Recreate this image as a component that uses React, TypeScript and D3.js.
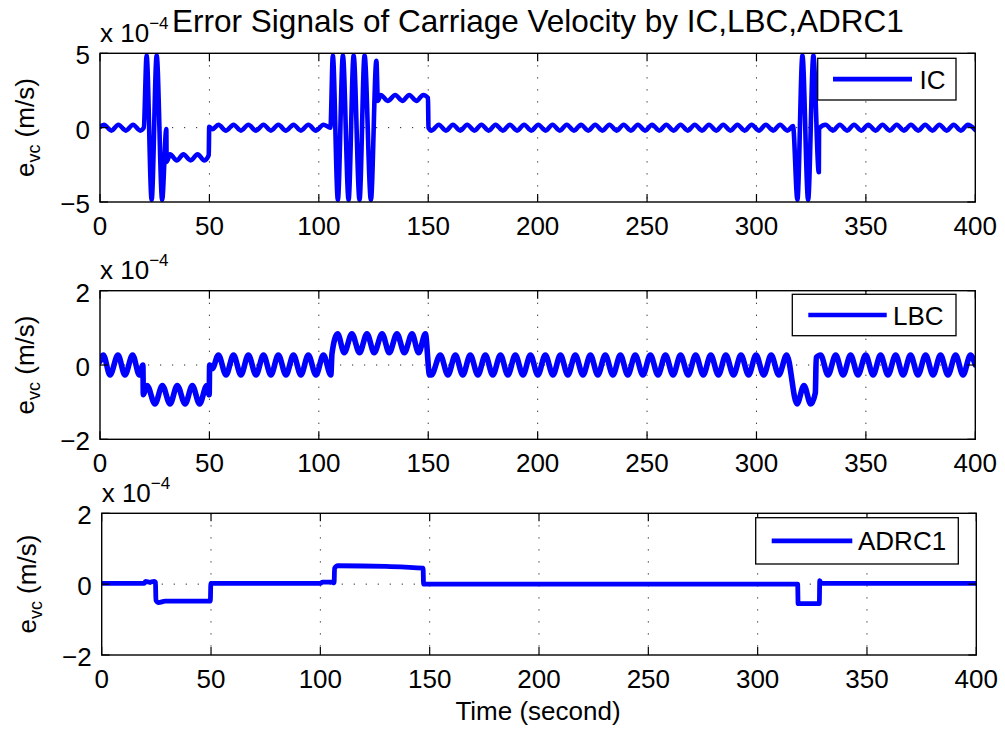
import React from 'react';
import * as d3 from 'd3';

// Velocity error traces, values in units of 1e-4 m/s, time in seconds.
type Pt = [number, number];

const TITLE = 'Error Signals of Carriage Velocity by IC,LBC,ADRC1';
const X_LABEL = 'Time (second)';
const SERIES_NAMES = ['IC', 'LBC', 'ADRC1'];
const X_TICKS = [0, 50, 100, 150, 200, 250, 300, 350, 400];
const IC_Y_TICKS = [-5, 0, 5];
const LBC_Y_TICKS = [-2, 0, 2];
const ADRC_Y_TICKS = [-2, 0, 2];

const icSignal: Pt[] = [
  [0, 0.05], [1.8, 0.2], [5.2, -0.2], [8.4, 0.2], [11.8, -0.2], [15.1, 0.2], [18.4, -0.2], [20.0, 0.0],
  [21.3, 4.85], [23.6, -4.85], [25.9, 4.85], [28.4, -4.85], [30.3, -0.1], [30.45, -2.3],
  [32.0, -1.8], [35.1, -2.2], [38.1, -1.8], [41.4, -2.2], [44.6, -1.8], [47.7, -2.2], [49.7, -1.85],
  [49.9, 0.05], [51.4, -0.1],
  [54.1, 0.2], [57.6, -0.2], [61.0, 0.2], [64.4, -0.2], [67.8, 0.2], [71.3, -0.2], [74.7, 0.2],
  [78.1, -0.2], [81.5, 0.2], [85.0, -0.2], [88.4, 0.2], [91.8, -0.2], [95.2, 0.2], [98.7, -0.2],
  [102.1, 0.2], [105.3, 0.0],
  [106.4, 4.85], [108.7, -4.85], [111.0, 4.85], [113.6, -4.85], [115.9, 4.85], [118.6, -4.85], [120.9, 4.85],
  [123.8, -4.85], [126.3, 4.5], [127.0, 1.8],
  [128.3, 2.2], [131.5, 1.8], [134.9, 2.2], [138.2, 1.8], [141.3, 2.2], [144.6, 1.8], [147.7, 2.2],
  [149.9, 2.0], [150.1, 0.0], [151.5, -0.2],
  [154.8, 0.2], [158.1, -0.2], [161.3, 0.2], [164.6, -0.2], [167.8, 0.2], [171.1, -0.2], [174.3, 0.2],
  [177.6, -0.2], [180.8, 0.2], [184.1, -0.2], [187.3, 0.2], [190.6, -0.2], [193.8, 0.2], [197.1, -0.2],
  [200.3, 0.2], [203.6, -0.2], [206.8, 0.2], [210.1, -0.2], [213.3, 0.2], [216.6, -0.2], [219.8, 0.2],
  [223.1, -0.2], [226.3, 0.2], [229.6, -0.2], [232.8, 0.2], [236.1, -0.2], [239.3, 0.2], [242.6, -0.2],
  [245.8, 0.2], [249.1, -0.2], [252.3, 0.2], [255.6, -0.2], [258.8, 0.2], [262.1, -0.2], [265.3, 0.2],
  [268.6, -0.2], [271.8, 0.2], [275.1, -0.2], [278.3, 0.2], [281.6, -0.2], [284.8, 0.2], [288.1, -0.2],
  [291.3, 0.2], [294.6, -0.2], [297.8, 0.2], [301.1, -0.2], [304.3, 0.2], [307.6, -0.2], [310.8, 0.2],
  [314.1, -0.2], [316.7, 0.1],
  [318.7, -4.85], [321.0, 4.85], [323.6, -4.85], [326.0, 4.85], [328.5, -3.0], [328.6, -0.05],
  [331.6, 0.2], [334.9, -0.2], [338.1, 0.2], [341.4, -0.2], [344.6, 0.2], [347.9, -0.2], [351.1, 0.2],
  [354.4, -0.2], [357.6, 0.2], [360.9, -0.2], [364.1, 0.2], [367.4, -0.2], [370.6, 0.2], [373.9, -0.2],
  [377.1, 0.2], [380.4, -0.2], [383.6, 0.2], [386.9, -0.2], [390.1, 0.2], [393.4, -0.2], [396.6, 0.2],
  [400, -0.15],
];

const lbcSignal: Pt[] = [
  [0, 0.1], [1.5, 0.27], [4.6, -0.27], [8.2, 0.27], [11.4, -0.27], [14.9, 0.27], [18.0, -0.27],
  [19.6, 0.0], [19.8, -0.8], [21.5, -0.55],
  [25.1, -1.05], [28.5, -0.55], [32.0, -1.05], [35.3, -0.55], [38.9, -1.05], [42.2, -0.55],
  [45.5, -1.05], [48.8, -0.55], [49.9, -0.8], [50.1, 0.0], [51.3, -0.1],
  [54.1, 0.27], [57.6, -0.27], [61.0, 0.27], [64.4, -0.27], [67.8, 0.27], [71.3, -0.27], [74.7, 0.27],
  [78.1, -0.27], [81.5, 0.27], [85.0, -0.27], [88.4, 0.27], [91.8, -0.27], [95.2, 0.27], [98.7, -0.27],
  [102.1, 0.27], [105.5, -0.27],
  [106.0, 0.3], [108.6, 0.84], [111.6, 0.33], [115.1, 0.84], [118.6, 0.33], [122.0, 0.84], [125.3, 0.33],
  [128.9, 0.84], [132.2, 0.33], [135.7, 0.84], [139.1, 0.33], [142.6, 0.84], [145.6, 0.33], [148.7, 0.84],
  [150.6, -0.27], [151.4, -0.27],
  [155.5, 0.27], [159.0, -0.27], [162.4, 0.27], [165.8, -0.27], [169.2, 0.27], [172.7, -0.27],
  [176.1, 0.27], [179.5, -0.27], [183.0, 0.27], [186.4, -0.27], [189.8, 0.27], [193.3, -0.27],
  [196.7, 0.27], [200.1, -0.27], [203.5, 0.27], [207.0, -0.27], [210.4, 0.27], [213.8, -0.27],
  [217.2, 0.27], [220.7, -0.27], [224.1, 0.27], [227.5, -0.27], [230.9, 0.27], [234.4, -0.27],
  [237.8, 0.27], [241.2, -0.27], [244.6, 0.27], [248.1, -0.27], [251.5, 0.27], [255.0, -0.27],
  [258.4, 0.27], [261.9, -0.27], [265.3, 0.27], [268.8, -0.27], [272.2, 0.27], [275.7, -0.27],
  [279.1, 0.27], [282.6, -0.27], [286.0, 0.27], [289.5, -0.27], [292.9, 0.27], [296.4, -0.27],
  [299.8, 0.27], [303.3, -0.27], [306.7, 0.27], [310.2, -0.27], [313.8, 0.27],
  [318.5, -1.05], [321.7, -0.55], [324.8, -1.05], [326.9, -0.75], [327.3, 0.2],
  [329.3, 0.27], [332.7, -0.27], [336.2, 0.27], [339.6, -0.27], [343.0, 0.27], [346.4, -0.27],
  [349.9, 0.27], [353.3, -0.27], [356.7, 0.27], [360.1, -0.27], [363.6, 0.27], [367.0, -0.27],
  [370.4, 0.27], [373.8, -0.27], [377.3, 0.27], [380.7, -0.27], [384.1, 0.27], [387.5, -0.27],
  [391.0, 0.27], [394.4, -0.27], [397.8, 0.27], [400, 0.0],
];

const adrcSignal: Pt[] = [
  [0, 0.02], [19.5, 0.02], [20.0, 0.08], [22.0, 0.05], [24.0, 0.08], [24.6, 0.05],
  [24.8, -0.45], [26.0, -0.52], [29.0, -0.48], [49.7, -0.48], [49.9, 0.02],
  [100.0, 0.02], [101.0, 0.06], [105.0, 0.06], [106.3, 0.04], [106.5, 0.45], [108.0, 0.52],
  [130.0, 0.5], [147.0, 0.45], [147.2, 0.0],
  [318.3, 0.0], [318.5, -0.55], [328.2, -0.55], [328.4, 0.1], [329.0, 0.02], [400, 0.02],
];

const FONT = '"Liberation Sans", Arial, Helvetica, sans-serif';
const BLUE = '#0000ff';
const W = 1005;
const H = 729;

interface Box { left: number; right: number; top: number; bottom: number }
interface LegendBox { x0: number; x1: number; y0: number; y1: number; lx0: number; lx1: number; tx: number }

const panels: { box: Box; legend: LegendBox; data: Pt[]; yTicks: number[]; name: string; traceWidth: number }[] = [
  {
    box: { left: 100, right: 975.3, top: 53.3, bottom: 202 },
    legend: { x0: 817.7, x1: 956, y0: 58.3, y1: 100, lx0: 833, lx1: 912, tx: 919.5 },
    data: icSignal, yTicks: IC_Y_TICKS, name: SERIES_NAMES[0], traceWidth: 4.6,
  },
  {
    box: { left: 100, right: 975.3, top: 290.7, bottom: 439.3 },
    legend: { x0: 792.3, x1: 956, y0: 294.3, y1: 335.7, lx0: 808.3, lx1: 886.7, tx: 893 },
    data: lbcSignal, yTicks: LBC_Y_TICKS, name: SERIES_NAMES[1], traceWidth: 5.6,
  },
  {
    box: { left: 101.7, right: 976.3, top: 513.3, bottom: 655 },
    legend: { x0: 755.7, x1: 958.3, y0: 517.7, y1: 564, lx0: 771.7, lx1: 852.3, tx: 858 },
    data: adrcSignal, yTicks: ADRC_Y_TICKS, name: SERIES_NAMES[2], traceWidth: 4.8,
  },
];

const fmt = (v: number) => (v < 0 ? '\u2212' + Math.abs(v) : String(v));

function Panel({ idx, box, legend, data, yTicks, name, traceWidth }: { idx: number; box: Box; legend: LegendBox; data: Pt[]; yTicks: number[]; name: string; traceWidth: number }) {
  const x = d3.scaleLinear().domain([X_TICKS[0], X_TICKS[X_TICKS.length - 1]]).range([box.left, box.right]);
  const y = d3.scaleLinear().domain([yTicks[0], yTicks[yTicks.length - 1]]).range([box.bottom, box.top]);
  const line = d3.line<Pt>().x((d) => x(d[0])).y((d) => y(d[1])).curve(d3.curveMonotoneX);
  const clipId = `plot-clip-${idx}`;
  const tickLen = 8;
  const yc = (box.top + box.bottom) / 2;
  const legendY = (legend.y0 + legend.y1) / 2;

  return (
    <g>
      <defs>
        <clipPath id={clipId}>
          <rect x={box.left} y={box.top} width={box.right - box.left} height={box.bottom - box.top} />
        </clipPath>
      </defs>
      <rect x={box.left} y={box.top} width={box.right - box.left} height={box.bottom - box.top} fill="#fff" />
      {/* dotted grid */}
      {X_TICKS.slice(1, -1).map((t) => (
        <line key={`gx${t}`} x1={x(t)} x2={x(t)} y1={box.top} y2={box.bottom}
          stroke="#222" strokeWidth={1} strokeDasharray="1.2 10.8" />
      ))}
      {yTicks.slice(1, -1).map((t) => (
        <line key={`gy${t}`} x1={box.left} x2={box.right} y1={y(t)} y2={y(t)}
          stroke="#222" strokeWidth={1} strokeDasharray="1.2 10.8" />
      ))}
      {/* signal trace */}
      <path d={line(data) ?? ''} fill="none" stroke={BLUE} strokeWidth={traceWidth}
        strokeLinejoin="round" strokeLinecap="round" clipPath={`url(#${clipId})`} />
      {/* axes box and ticks */}
      <rect x={box.left} y={box.top} width={box.right - box.left} height={box.bottom - box.top}
        fill="none" stroke="#000" strokeWidth={1.4} />
      {X_TICKS.map((t) => (
        <g key={`tx${t}`}>
          <line x1={x(t)} x2={x(t)} y1={box.bottom} y2={box.bottom - tickLen} stroke="#000" strokeWidth={1.2} />
          <line x1={x(t)} x2={x(t)} y1={box.top} y2={box.top + tickLen} stroke="#000" strokeWidth={1.2} />
          <text x={x(t)} y={box.bottom + 33} textAnchor="middle" fontSize={26} fontFamily={FONT}>{t}</text>
        </g>
      ))}
      {yTicks.map((t) => (
        <g key={`ty${t}`}>
          <line x1={box.left} x2={box.left + tickLen} y1={y(t)} y2={y(t)} stroke="#000" strokeWidth={1.2} />
          <line x1={box.right} x2={box.right - tickLen} y1={y(t)} y2={y(t)} stroke="#000" strokeWidth={1.2} />
          <text x={box.left - 10} y={y(t) + 11} textAnchor="end" fontSize={26} fontFamily={FONT}>{fmt(t)}</text>
        </g>
      ))}
      {/* exponent label */}
      <text x={box.left} y={box.top - 11.8} fontSize={26} fontFamily={FONT}>
        x 10<tspan fontSize={17} dy={-13}>{'\u2212'}4</tspan>
      </text>
      {/* y axis label */}
      <text transform={`translate(${box.left - 66},${yc}) rotate(-90)`} textAnchor="middle" fontSize={26} fontFamily={FONT}>
        e<tspan fontSize={18} dy={6}>vc</tspan><tspan dy={-6}> (m/s)</tspan>
      </text>
      {/* legend */}
      <rect x={legend.x0} y={legend.y0} width={legend.x1 - legend.x0} height={legend.y1 - legend.y0}
        fill="#fff" stroke="#000" strokeWidth={1.3} />
      <line x1={legend.lx0} x2={legend.lx1} y1={legendY} y2={legendY} stroke={BLUE} strokeWidth={4.6} />
      <text x={legend.tx} y={legendY + 9.5} fontSize={26} fontFamily={FONT}>{name}</text>
    </g>
  );
}

export default function App() {
  return (
    <svg width={W} height={H} viewBox={`0 0 ${W} ${H}`}
      style={{ position: 'absolute', left: 0, top: 0, background: '#fff' }}>
      <rect x={0} y={0} width={W} height={H} fill="#fff" />
      {panels.map((p, i) => (
        <Panel key={p.name} idx={i} {...p} />
      ))}
      <text x={538} y={32} textAnchor="middle" fontSize={31.5} fontFamily={FONT}>{TITLE}</text>
      <text x={538} y={720} textAnchor="middle" fontSize={26} fontFamily={FONT}>{X_LABEL}</text>
    </svg>
  );
}
